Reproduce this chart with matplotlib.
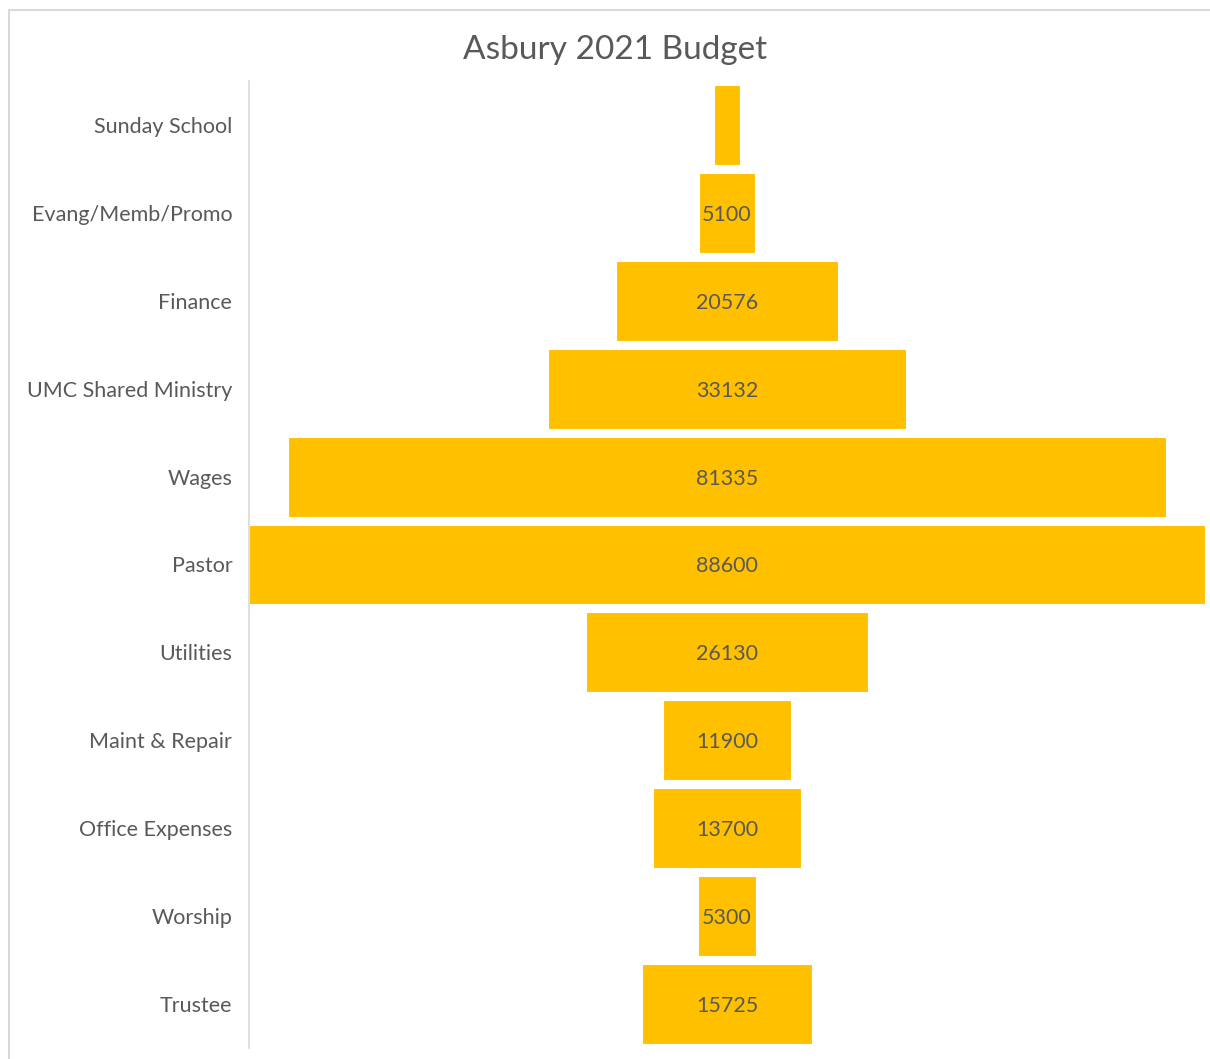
import matplotlib
matplotlib.use("Agg")
import matplotlib.pyplot as plt
from matplotlib.patches import Rectangle

categories = ["Sunday School", "Evang/Memb/Promo", "Finance", "UMC Shared Ministry",
              "Wages", "Pastor", "Utilities", "Maint & Repair", "Office Expenses",
              "Worship", "Trustee"]
values = [2400, 5100, 20576, 33132, 81335, 88600, 26130, 11900, 13700, 5300, 15725]
show_label = [False, True, True, True, True, True, True, True, True, True, True]

plt.rcParams['font.family'] = ['Lato', 'DejaVu Sans']

W, H = 1210, 1059
fig = plt.figure(figsize=(W / 100, H / 100), dpi=100)

# outer chart frame (partially cropped)
fig.add_artist(Rectangle((9 / W, -0.05), 1.2, 1 - 10 / H + 0.05, transform=fig.transFigure,
                         fill=False, edgecolor="#D9D9D9", linewidth=1.5))

ax = fig.add_axes([249 / W, 1 - 1048 / H, (1205 - 249) / W, (1048 - 81) / H])
ypos = list(range(len(categories)))
lefts = [-v / 2 for v in values]
ax.barh(ypos, values, left=lefts, height=0.91, color="#FFC000",
        edgecolor="white", linewidth=0.8)
for y, v, s in zip(ypos, values, show_label):
    if s:
        ax.text(0, y, str(v), ha="center", va="center_baseline", fontsize=15.5, color="#595959")

m = max(values) / 2
ax.set_xlim(-m, m)
ax.set_ylim(len(categories) - 0.5, -0.5)
ax.set_yticks(ypos)
ax.set_yticklabels(categories, fontsize=15.5, color="#595959")
ax.tick_params(axis="y", length=0, pad=12)
ax.set_xticks([])
for side in ["top", "right", "bottom"]:
    ax.spines[side].set_visible(False)
ax.spines["left"].set_color("#D9D9D9")
ax.spines["left"].set_linewidth(1.2)

fig.text(615 / W, 1 - 50 / H, "Asbury 2021 Budget", ha="center", va="center",
         fontsize=24, color="#595959")

fig.savefig("out.png", dpi=100)
